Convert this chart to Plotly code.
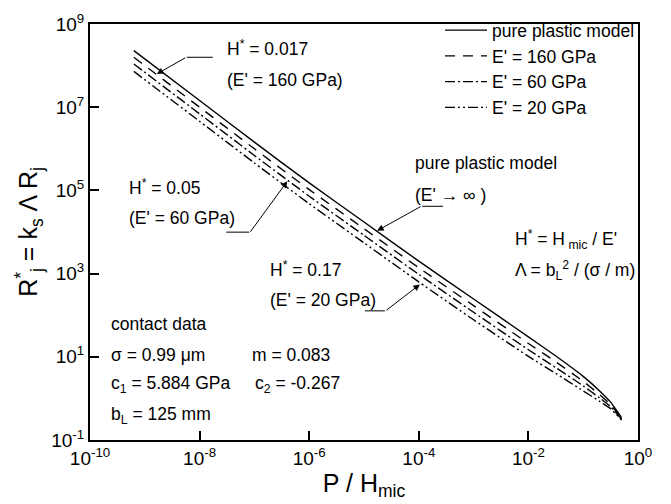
import plotly.graph_objects as go

# log10(P / H_mic) sample points shared by all curves
log_p = [-9.2, -8.0, -7.0, -6.0, -5.0, -4.0, -3.0, -2.0, -1.5, -1.0, -0.7, -0.5, -0.3]

# log10(R*_j) for each model
log_r_plastic = [8.36, 7.16, 6.16, 5.18, 4.24, 3.30, 2.39, 1.48, 1.02, 0.53, 0.18, -0.09, -0.46]
log_r_e160 = [8.20, 7.00, 6.00, 5.02, 4.08, 3.14, 2.23, 1.32, 0.88, 0.41, 0.09, -0.15, -0.48]
log_r_e60 = [8.04, 6.84, 5.84, 4.86, 3.92, 2.98, 2.07, 1.17, 0.74, 0.30, 0.01, -0.20, -0.50]
log_r_e20 = [7.86, 6.66, 5.66, 4.68, 3.74, 2.80, 1.89, 1.01, 0.60, 0.18, -0.07, -0.25, -0.52]

series_names = ["pure plastic model", "E' = 160 GPa", "E' = 60 GPa", "E' = 20 GPa"]
series_values = [log_r_plastic, log_r_e160, log_r_e60, log_r_e20]
series_dash = ["solid", "10px,8px", "10px,3px,2px,3px", "10px,3px,2px,3px,2px,3px"]

x_tick_exps = [-10, -8, -6, -4, -2, 0]
y_tick_exps = [-1, 1, 3, 5, 7, 9]

FONT = "Arial, Liberation Sans, sans-serif"

W, H = 671, 504
L, R, T, B = 90, 33, 15, 64
PW, PH = W - L - R, H - T - B


def paper(px, py):
    return (px - L) / PW, (H - B - py) / PH


fig = go.Figure()
for name, vals, dash in zip(series_names, series_values, series_dash):
    fig.add_trace(go.Scatter(
        x=[10 ** v for v in log_p],
        y=[10 ** v for v in vals],
        mode="lines",
        name=name,
        line=dict(color="black", width=1.4, dash=dash, shape="spline", smoothing=0.5),
    ))

annotations = []


def text(px, py, s):
    xp, yp = paper(px, py)
    annotations.append(dict(x=xp, y=yp, xref="paper", yref="paper", text=s,
                            showarrow=False, xanchor="left", yanchor="middle",
                            font=dict(size=17.5, family=FONT, color="black")))


text(225, 40, "H<sup>*</sup> = 0.017")
text(225, 72, "(E' = 160 GPa)")
text(127, 182, "H<sup>*</sup> = 0.05")
text(127, 213, "(E' = 60 GPa)")
text(268, 265, "H<sup>*</sup> = 0.17")
text(268, 297, "(E' = 20 GPa)")
text(413, 157, "pure plastic model")
text(413, 190, "(E' \u2192 \u221e )")
text(513, 235, "H<sup>*</sup> = H<sub> mic</sub> / E'")
text(513, 267, "\u039b = b<sub>L</sub><sup>2</sup> / (\u03c3 / m)")
text(109, 321, "contact data")
text(109, 353, "\u03c3 = 0.99 \u03bcm")
text(250, 353, "m = 0.083")
text(109, 383, "c<sub>1</sub> = 5.884 GPa")
text(253, 383, "c<sub>2</sub> = -0.267")
text(109, 415, "b<sub>L</sub> = 125 mm")

# leader arrows: tip on the curve (log data coords), tail offset in pixels,
# followed by a short horizontal segment under the label
leaders = [
    # tip (log x, log y), tail offset (dx, dy), horizontal run length
    ((-8.78, 7.80), (30, -17), 26),
    ((-6.40, 5.22), (-38, 52), -23),
    ((-3.98, 2.74), (-35, 27), -20),
    ((-4.76, 4.03), (45, -25), 21),
]
shapes = []
for (lx, ly), (dx, dy), run in leaders:
    annotations.append(dict(x=lx, y=ly, xref="x", yref="y", text="", showarrow=True,
                            ax=dx, ay=dy, arrowhead=2, arrowsize=1.3, arrowwidth=1,
                            arrowcolor="black", standoff=0))
    tip_px = L + (lx + 10) / 10 * PW
    tip_py = T + (9 - ly) / 10 * PH
    cx, cy = tip_px + dx, tip_py + dy
    x0, y0 = paper(cx, cy)
    x1, _ = paper(cx + run, cy)
    shapes.append(dict(type="line", xref="paper", yref="paper", x0=x0, y0=y0, x1=x1, y1=y0,
                       line=dict(color="black", width=1)))

axis_common = dict(
    type="log", showgrid=False, zeroline=False,
    showline=True, linewidth=2, linecolor="black", mirror=True,
    ticks="inside", ticklen=9, tickwidth=2, tickcolor="black",
    tickfont=dict(size=19, family=FONT, color="black"),
)

fig.update_layout(
    width=W, height=H,
    margin=dict(l=L, r=R, t=T, b=B),
    paper_bgcolor="white", plot_bgcolor="white",
    font=dict(family=FONT, color="black"),
    showlegend=True,
    legend=dict(x=paper(440, 0)[0], y=paper(0, 3)[1], xanchor="left", yanchor="top",
                bgcolor="rgba(0,0,0,0)", borderwidth=0, itemwidth=42,
                font=dict(size=17.5, family=FONT, color="black")),
    xaxis=dict(axis_common, range=[-10, 0],
               tickvals=[10 ** e for e in x_tick_exps],
               ticktext=[f"10<sup>{e}</sup>" for e in x_tick_exps],
               title=dict(text="P / H<sub>mic</sub>", font=dict(size=25, family=FONT), standoff=2)),
    yaxis=dict(axis_common, range=[-1, 9],
               tickvals=[10 ** e for e in y_tick_exps],
               ticktext=[f"10<sup>{e}</sup>" for e in y_tick_exps],
               title=dict(text="R<sup>*</sup><sub>j</sub> = k<sub>s</sub> \u039b R<sub>j</sub>",
                          font=dict(size=25, family=FONT), standoff=6)),
    annotations=annotations,
    shapes=shapes,
)

fig.write_html("out.html")
